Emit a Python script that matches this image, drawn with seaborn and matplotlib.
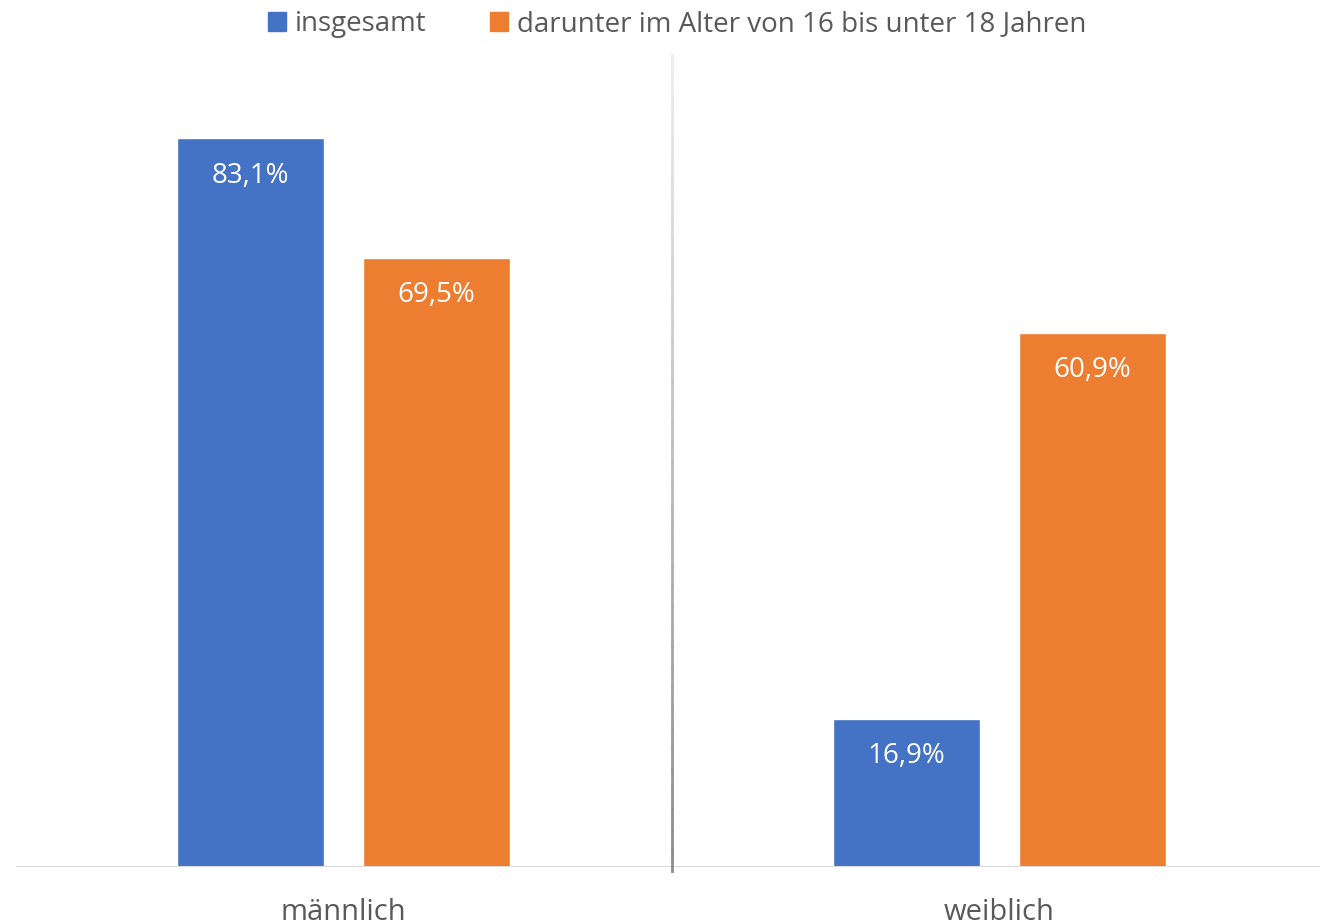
import numpy as np
import pandas as pd
import matplotlib.pyplot as plt
import seaborn as sns

# Daten
geschlecht = ['männlich', 'weiblich']
gruppen = ['insgesamt', 'darunter im Alter von 16 bis unter 18 Jahren']
insgesamt = [83.1, 16.9]
alter_16_18 = [69.5, 60.9]
farben = ['#4472C4', '#ED7D31']

df = pd.DataFrame({
    'Geschlecht': geschlecht * 2,
    'Gruppe': [gruppen[0]] * 2 + [gruppen[1]] * 2,
    'Anteil': insgesamt + alter_16_18,
})

sns.set_style('white')
plt.rcParams['font.family'] = ['Open Sans', 'DejaVu Sans']

fig = plt.figure(figsize=(13.2, 9.22), dpi=100)
ax = fig.add_axes([16 / 1320, 55 / 922, 1311 / 1320, 812 / 922])

sns.barplot(data=df, x='Geschlecht', y='Anteil', hue='Gruppe', hue_order=gruppen,
            palette=farben, width=0.5675, gap=0.209, saturation=1, ax=ax, legend=False)

ax.set_ylim(0, 92.6)
ax.set_xlim(-0.5, 1.5)

# Werte in den Balken
for cont in ax.containers:
    labels = [f'{b.get_height():.1f}%'.replace('.', ',') for b in cont]
    ax.bar_label(cont, labels=labels, padding=-37, color='white', fontsize=20)

# Trennlinie zwischen den Kategorien (Verlauf hell -> dunkel)
n = 40
ys = np.linspace(92.6, -0.4, n + 1)
for i in range(n):
    g = 0.93 - 0.38 * i / (n - 1)
    ax.plot([0.5, 0.5], [ys[i], ys[i + 1]], color=(g, g, g), lw=2,
            solid_capstyle='projecting', clip_on=False, zorder=3)

ax.axhline(0, color='#D9D9D9', lw=1.5, zorder=2)

sns.despine(ax=ax, left=True, bottom=True)
ax.set_yticks([])
ax.set_xlabel('')
ax.set_ylabel('')
ax.tick_params(axis='x', length=0, pad=22, labelsize=21, labelcolor='#595959')

# Legende
handles = [plt.Rectangle((0, 0), 1, 1, color=c) for c in farben]
fig.legend(handles, gruppen, loc='upper center', bbox_to_anchor=(0.513, 1.016), ncol=2,
           frameon=False, fontsize=20, labelcolor='#595959', handlelength=0.65,
           handleheight=0.65, handletextpad=0.3, columnspacing=2.3)

fig.savefig('out.png', dpi=100)
